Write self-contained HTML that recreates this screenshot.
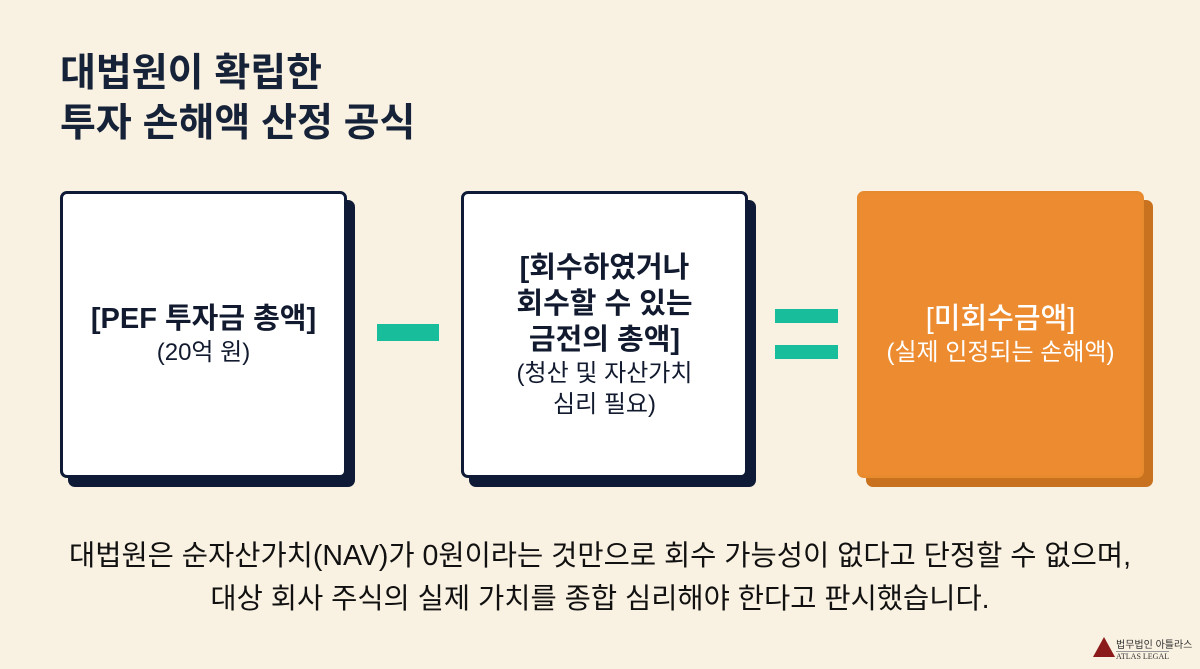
<!DOCTYPE html>
<html><head><meta charset="utf-8"><style>
body{margin:0;width:1200px;height:669px;background:#f9f1e1;position:relative;overflow:hidden;font-family:"Liberation Sans","Noto Sans CJK KR",sans-serif;color:#111a2e}
.t{position:absolute;left:60px;top:49px;font-size:39px;font-weight:700;line-height:50px;color:#152238}
.sh{position:absolute;width:287px;height:287px;border-radius:7px}
.b{position:absolute;width:281px;height:281px;border:3px solid #0e1a36;border-radius:7px;background:#fff;display:flex;flex-direction:column;align-items:center;justify-content:center;text-align:center}
.m{font-size:29px;font-weight:700;line-height:36px}
.s{font-size:24px;line-height:31px}
.bar{position:absolute;background:#18bd9b}
.bot{position:absolute;left:0;width:1200px;text-align:center;font-size:28.5px;line-height:43px;top:535px;color:#111}
</style></head><body>
<div class="t">대법원이 확립한<br>투자 손해액 산정 공식</div>
<div class="sh" style="left:68px;top:200px;background:#0e1a36"></div>
<div class="b" style="left:60px;top:191px"><div class="m">[PEF 투자금 총액]</div><div class="s">(20억 원)</div></div>
<div class="bar" style="left:377px;top:324px;width:62px;height:17px"></div>
<div class="sh" style="left:469px;top:200px;background:#0e1a36"></div>
<div class="b" style="left:461px;top:191px"><div class="m">[회수하였거나<br>회수할 수 있는<br>금전의 총액]</div><div class="s">(청산 및 자산가치<br>심리 필요)</div></div>
<div class="bar" style="left:775px;top:309px;width:63px;height:14px"></div>
<div class="bar" style="left:775px;top:345px;width:63px;height:14px"></div>
<div class="sh" style="left:866px;top:200px;background:#c8721f"></div>
<div class="b" style="left:857px;top:191px;border-color:#e88a2e;background:#ec8b2f;color:#fff"><div class="m" style="font-weight:500">[미회수금액]</div><div class="s">(실제 인정되는 손해액)</div></div>
<div class="bot">대법원은 순자산가치(NAV)가 0원이라는 것만으로 회수 가능성이 없다고 단정할 수 없으며,<br>대상 회사 주식의 실제 가치를 종합 심리해야 한다고 판시했습니다.</div>
<div style="position:absolute;left:1093px;top:637px;width:0;height:0;border-left:11px solid transparent;border-right:11px solid transparent;border-bottom:20px solid #8b1a1a"></div>
<div style="position:absolute;left:1116px;top:636px;font-size:10px;color:#333">법무법인 아틀라스</div>
<div style="position:absolute;left:1116px;top:651px;font-size:8px;font-family:'Liberation Serif',serif;color:#333;border-top:1px solid #999">ATLAS LEGAL</div>
</body></html>
